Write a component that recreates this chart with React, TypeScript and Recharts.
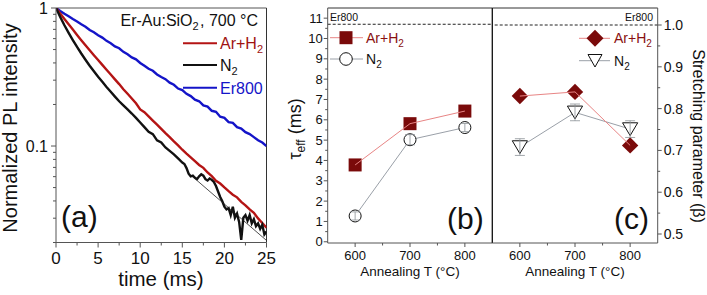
import React from 'react';
import { ComposedChart, Line, Scatter, XAxis, YAxis, ReferenceLine, ErrorBar } from 'recharts';

const FONT = '"Liberation Sans", Arial, Helvetica, sans-serif';
const AXIS = '#555';

// ---------- Panel (a): PL decay curves ----------
const T_HALF = [0,0.5,1,1.5,2,2.5,3,3.5,4,4.5,5,5.5,6,6.5,7,7.5,8,8.5,9,9.5,10,10.5,11,11.5,12,12.5,13,13.5,14,14.5,15,15.5,16,16.5,17,17.5,18,18.5,19,19.5,20,20.5,21,21.5,22,22.5,23,23.5,24,24.5,25];
const PL_ARH2 = [1,0.912,0.832,0.762,0.698,0.638,0.585,0.537,0.494,0.455,0.42,0.387,0.357,0.33,0.304,0.281,0.258,0.239,0.221,0.204,0.184,0.176,0.164,0.153,0.143,0.133,0.124,0.116,0.108,0.101,0.094,0.088,0.0828,0.0776,0.0729,0.0695,0.0643,0.0605,0.056,0.0535,0.0501,0.0471,0.0444,0.0425,0.0394,0.0372,0.0347,0.0328,0.0299,0.0277,0.0256];
const PL_ER800 = [1,0.951,0.908,0.871,0.832,0.798,0.762,0.731,0.692,0.667,0.634,0.61,0.578,0.556,0.527,0.511,0.481,0.462,0.439,0.425,0.4,0.382,0.363,0.351,0.33,0.316,0.305,0.288,0.278,0.261,0.254,0.239,0.23,0.217,0.211,0.197,0.193,0.18,0.177,0.163,0.16,0.149,0.147,0.137,0.134,0.126,0.122,0.116,0.11,0.106,0.1];
const T_N2 = [0,0.5,1,1.5,2,2.5,3,3.5,4,4.5,5,5.5,6,6.5,7,7.5,8,8.5,9,9.5,10,10.5,11,11.5,12,12.5,13,13.5,14,14.5,15,
  15.25,15.5,15.75,16,16.25,16.5,16.75,17,17.25,17.5,17.75,18,18.25,18.5,18.75,19,19.25,19.5,19.75,20,20.25,20.5,20.75,21,21.25,21.5,21.75,22,22.25,22.5,22.75,23,23.25,23.5,23.75,24,24.25,24.5,24.75,25];
const PL_N2 = [1,0.861,0.75,0.661,0.586,0.522,0.468,0.422,0.382,0.348,0.318,0.292,0.268,0.247,0.228,0.211,0.197,0.184,0.172,0.16,0.148,0.137,0.127,0.122,0.11,0.106,0.0977,0.0923,0.0871,0.0813,0.0759,
  0.0741,0.0692,0.0631,0.0603,0.061,0.0589,0.0575,0.0603,0.0624,0.061,0.0575,0.0562,0.0582,0.0569,0.055,0.0513,0.0468,0.0427,0.0398,0.0363,0.0347,0.0355,0.0316,0.0363,0.0302,0.0324,0.0282,0.0209,0.0302,0.0316,0.0288,0.0316,0.0275,0.0295,0.0263,0.0275,0.0251,0.0269,0.0229,0.024];
const T_FIT = [16.5, 25];
const PL_FIT = [0.058, 0.0207];
const A_XTICKS = [0,2.5,5,7.5,10,12.5,15,17.5,20,22.5,25];
const A_YTICKS = [0.02,0.03,0.04,0.05,0.06,0.07,0.08,0.09,0.1,0.2,0.3,0.4,0.5,0.6,0.7,0.8,0.9,1];

// ---------- Panels (b), (c) ----------
const ANNEAL = [600, 700, 800];
const TAU_ARH2 = [3.78, 5.81, 6.43];
const TAU_N2 = [1.27, 5.02, 5.62];
const TAU_N2_ERR = [0.2, 0.25, 0.2];
const TAU_ER800 = 10.7;
const BETA_ARH2 = [0.83, 0.84, 0.712];
const BETA_N2 = [0.708, 0.791, 0.751];
const BETA_N2_ERR = [0.02, 0.02, 0.02];
const BETA_ER800 = 1.0;
const B_YTICKS = [0,0.5,1,1.5,2,2.5,3,3.5,4,4.5,5,5.5,6,6.5,7,7.5,8,8.5,9,9.5,10,10.5,11];
const C_YTICKS = [0.5,0.55,0.6,0.65,0.7,0.75,0.8,0.85,0.9,0.95,1.0];
const T_XTICKS = [600, 650, 700, 750, 800];

const zip = (xs: number[], ys: number[]) => xs.map((x, i) => ({ x, v: ys[i] }));
const zipErr = (xs: number[], ys: number[], es: number[]) => xs.map((x, i) => ({ x, v: ys[i], err: es[i] }));

const dataArH2 = zip(T_HALF, PL_ARH2);
const dataEr800 = zip(T_HALF, PL_ER800);
const dataN2 = zip(T_N2, PL_N2);
const dataFit = zip(T_FIT, PL_FIT);
const bAr = zip(ANNEAL, TAU_ARH2);
const bN2 = zipErr(ANNEAL, TAU_N2, TAU_N2_ERR);
const cAr = zip(ANNEAL, BETA_ARH2);
const cN2 = zipErr(ANNEAL, BETA_N2, BETA_N2_ERR);

const MAROON = '#7a0a0a';
const PINK = '#e88585';
const GREYLINE = '#9aa0a8';
const ERRGREY = '#8a9096';

// ---------- tick renderers ----------
const ATickX = (p: any) => {
  const { x, y, payload } = p;
  const v = payload.value;
  const major = v % 5 === 0;
  return (
    <g>
      <line x1={x} x2={x} y1={y} y2={y + (major ? 5 : 3)} stroke={AXIS} />
      {major && (
        <text x={x} y={y + 21.5} textAnchor="middle" fontSize={17} fontFamily={FONT} fill="#111">{v}</text>
      )}
    </g>
  );
};
const ATickY = (p: any) => {
  const { x, y, payload } = p;
  const v = payload.value;
  const major = Math.abs(v - 1) < 1e-9 || Math.abs(v - 0.1) < 1e-9;
  return (
    <g>
      <line x1={x} x2={x - (major ? 5 : 3)} y1={y} y2={y} stroke={AXIS} />
      {major && (
        <text x={x - 8} y={y + 5.7} textAnchor="end" fontSize={16} fontFamily={FONT} fill="#111">{v === 1 ? '1' : '0.1'}</text>
      )}
    </g>
  );
};
const TTickX = (p: any) => {
  const { x, y, payload } = p;
  const v = payload.value;
  const major = v % 100 === 0;
  return (
    <g>
      <line x1={x} x2={x} y1={y} y2={y + (major ? 4 : 2.5)} stroke={AXIS} />
      {major && (
        <text x={x} y={y + 16.5} textAnchor="middle" fontSize={13} fontFamily={FONT} fill="#111">{v}</text>
      )}
    </g>
  );
};
const BTickY = (p: any) => {
  const { x, y, payload } = p;
  const v = payload.value;
  const major = Number.isInteger(v);
  return (
    <g>
      <line x1={x} x2={x - (major ? 4 : 2.5)} y1={y} y2={y} stroke={AXIS} />
      {major && (
        <text x={x - 5} y={y + 4.6} textAnchor="end" fontSize={13} fontFamily={FONT} fill="#111">{v}</text>
      )}
    </g>
  );
};
const CTickY = (p: any) => {
  const { x, y, payload } = p;
  const v = payload.value;
  const major = Math.round(v * 100) % 10 === 0;
  return (
    <g>
      <line x1={x} x2={x + (major ? 4 : 2.5)} y1={y} y2={y} stroke={AXIS} />
      {major && (
        <text x={x + 6} y={y + 5} textAnchor="start" fontSize={14} fontFamily={FONT} fill="#111">{v.toFixed(1)}</text>
      )}
    </g>
  );
};

// ---------- marker shapes ----------
const Square = (p: any) => (
  <rect key={`s${p.index}`} x={p.cx - 6.5} y={p.cy - 6.5} width={13} height={13} fill={MAROON} />
);
const Circle = (p: any) => (
  <circle key={`c${p.index}`} cx={p.cx} cy={p.cy} r={6} fill="#fff" stroke="#111" strokeWidth={1} />
);
const Diamond = (p: any) => (
  <polygon key={`d${p.index}`} points={`${p.cx},${p.cy - 8.2} ${p.cx + 8.2},${p.cy} ${p.cx},${p.cy + 8.2} ${p.cx - 8.2},${p.cy}`} fill={MAROON} />
);
const TriDown = (p: any) => (
  <polygon key={`t${p.index}`} points={`${p.cx - 7.6},${p.cy - 6.3} ${p.cx + 7.6},${p.cy - 6.3} ${p.cx},${p.cy + 6.5}`} fill="#fff" stroke="#111" strokeWidth={1} />
);
const Empty = () => <g />;

const Sub = ({ children, size }: any) => (
  <>
    <tspan fontSize={size} dy={4}>{children}</tspan>
    <tspan dy={-4}>{'\u200A'}</tspan>
  </>
);

export default function App() {
  return (
    <div style={{ position: 'absolute', left: 0, top: 0, width: 707, height: 295, background: '#fff', fontFamily: FONT }}>
      {/* Panel (a) */}
      <div style={{ position: 'absolute', left: 0, top: 0 }}>
        <ComposedChart width={707} height={295} margin={{ top: 8, right: 440.5, bottom: 22.5, left: 16 }}>
          <XAxis type="number" dataKey="x" domain={[0, 25]} ticks={A_XTICKS} interval={0} tick={ATickX} tickSize={0} tickMargin={0} tickLine={false} height={30} stroke={AXIS} allowDataOverflow />
          <YAxis type="number" scale="log" domain={[0.02, 1]} ticks={A_YTICKS} interval={0} tick={ATickY} tickSize={0} tickMargin={0} tickLine={false} width={40} stroke={AXIS} allowDataOverflow />
          <ReferenceLine y={1} stroke={AXIS} />
          <ReferenceLine x={25} stroke="#333" />
          <Line data={dataEr800} dataKey="v" stroke="#1414c8" strokeWidth={2.4} dot={false} isAnimationActive={false} />
          <Line data={dataArH2} dataKey="v" stroke="#b41414" strokeWidth={2.4} dot={false} isAnimationActive={false} />
          <Line data={dataN2} dataKey="v" stroke="#111" strokeWidth={2.4} dot={false} isAnimationActive={false} />
          <Line data={dataFit} dataKey="v" stroke="#222" strokeWidth={0.8} dot={false} isAnimationActive={false} />
        </ComposedChart>
      </div>

      {/* Panel (b) */}
      <div style={{ position: 'absolute', left: 0, top: 0 }}>
        <ComposedChart width={707} height={295} margin={{ top: 8, right: 214.7, bottom: 22, left: 287.7 }}>
          <XAxis type="number" dataKey="x" domain={[550, 850]} ticks={T_XTICKS} interval={0} tick={TTickX} tickSize={0} tickMargin={0} tickLine={false} height={30} stroke={AXIS} allowDataOverflow />
          <YAxis type="number" domain={[-0.06, 11.5]} ticks={B_YTICKS} interval={0} tick={BTickY} tickSize={0} tickMargin={0} tickLine={false} width={40} stroke={AXIS} allowDataOverflow />
          <ReferenceLine y={11.5} stroke="#333" />
          <ReferenceLine x={850} stroke="#111" />
          <ReferenceLine y={TAU_ER800} stroke="#222" strokeDasharray="3 2" />
          <Line data={bN2} dataKey="v" stroke={GREYLINE} strokeWidth={1} dot={false} isAnimationActive={false} />
          <Scatter data={bN2} dataKey="v" shape={Circle} isAnimationActive={false} />
          <Scatter data={bN2} dataKey="v" shape={Empty} isAnimationActive={false} zIndex={900}>
            <ErrorBar dataKey="err" direction="y" width={5} stroke={ERRGREY} strokeWidth={0.8} zIndex={900} />
          </Scatter>
          <Line data={bAr} dataKey="v" stroke={PINK} strokeWidth={1} dot={Square} isAnimationActive={false} zIndex={950} />
        </ComposedChart>
      </div>

      {/* Panel (c) */}
      <div style={{ position: 'absolute', left: 0, top: 0 }}>
        <ComposedChart width={707} height={295} margin={{ top: 8, right: 4.3, bottom: 22, left: 492.3 }}>
          <XAxis type="number" dataKey="x" domain={[550, 850]} ticks={T_XTICKS} interval={0} tick={TTickX} tickSize={0} tickMargin={0} tickLine={false} height={30} stroke={AXIS} allowDataOverflow />
          <YAxis type="number" orientation="right" domain={[0.4785, 1.0407]} ticks={C_YTICKS} interval={0} tick={CTickY} tickSize={0} tickMargin={0} tickLine={false} width={45} stroke={AXIS} allowDataOverflow />
          <ReferenceLine y={1.0407} stroke="#333" />
          <ReferenceLine x={550} stroke="#111" />
          <ReferenceLine y={BETA_ER800} stroke="#222" strokeDasharray="3 2" />
          <Line data={cN2} dataKey="v" stroke={GREYLINE} strokeWidth={1} dot={false} isAnimationActive={false} />
          <Scatter data={cN2} dataKey="v" shape={TriDown} isAnimationActive={false} />
          <Scatter data={cN2} dataKey="v" shape={Empty} isAnimationActive={false} zIndex={900}>
            <ErrorBar dataKey="err" direction="y" width={5} stroke={ERRGREY} strokeWidth={0.8} zIndex={900} />
          </Scatter>
          <Line data={cAr} dataKey="v" stroke={PINK} strokeWidth={1} dot={Diamond} isAnimationActive={false} zIndex={950} />
        </ComposedChart>
      </div>

      {/* Text overlay */}
      <svg width={707} height={295} style={{ position: 'absolute', left: 0, top: 0, pointerEvents: 'none' }} fontFamily={FONT}>
        {/* (a) */}
        <text transform="translate(16.5,128) rotate(-90)" textAnchor="middle" fontSize={20} fill="#111">Normalized PL intensity</text>
        <text x={161} y={286} textAnchor="middle" fontSize={20.5} fill="#111">time (ms)</text>
        <text x={258} y={26} textAnchor="end" fontSize={16} fill="#111">Er-Au:SiO<Sub size={11}>2</Sub>, 700 °C</text>
        <line x1={183} x2={217} y1={43.3} y2={43.3} stroke="#b41414" strokeWidth={2} />
        <line x1={183} x2={217} y1={65} y2={65} stroke="#111" strokeWidth={2} />
        <line x1={183} x2={217} y1={87.7} y2={87.7} stroke="#1414c8" strokeWidth={2} />
        <text x={220} y={49} fontSize={16} fill="#a01212">Ar+H<Sub size={11}>2</Sub></text>
        <text x={220} y={70.5} fontSize={16} fill="#111">N<Sub size={11}>2</Sub></text>
        <text x={220} y={93.5} fontSize={16} fill="#1515c8">Er800</text>
        <text x={61} y={227} fontSize={30} fill="#111">(a)</text>

        {/* (b) */}
        <text transform="translate(301,129) rotate(-90)" textAnchor="middle" fontSize={18} fill="#111">τ<tspan fontSize={12} dy={4}>eff</tspan><tspan dy={-4}> (ms)</tspan></text>
        <text x={410} y={276} textAnchor="middle" fontSize={13.5} fill="#111">Annealing T (°C)</text>
        <text x={330} y={21} fontSize={10.5} fill="#111">Er800</text>
        <line x1={330} x2={363} y1={37.7} y2={37.7} stroke={PINK} strokeWidth={1} />
        <rect x={339.5} y={31.2} width={13} height={13} fill={MAROON} />
        <line x1={330} x2={363} y1={59} y2={59} stroke={GREYLINE} strokeWidth={1} />
        <circle cx={346} cy={59} r={6.3} fill="#fff" stroke="#111" />
        <text x={366} y={42.5} fontSize={14} fill="#8a1010">Ar+H<Sub size={10}>2</Sub></text>
        <text x={366} y={64} fontSize={14} fill="#111">N<Sub size={10}>2</Sub></text>
        <text x={447} y={229} fontSize={30} fill="#111">(b)</text>

        {/* (c) */}
        <text transform="translate(693,136) rotate(90)" textAnchor="middle" fontSize={16} fill="#111">Stretching parameter (β)</text>
        <text x={575} y={276} textAnchor="middle" fontSize={13.5} fill="#111">Annealing T (°C)</text>
        <text x={653} y={21} textAnchor="end" fontSize={10.5} fill="#111">Er800</text>
        <line x1={579} x2={610} y1={38.3} y2={38.3} stroke={PINK} strokeWidth={1} />
        <polygon points="595,29.8 603.5,38.3 595,46.8 586.5,38.3" fill={MAROON} />
        <line x1={579} x2={610} y1={60.7} y2={60.7} stroke={GREYLINE} strokeWidth={1} />
        <polygon points="588,54.5 602,54.5 595,67" fill="#fff" stroke="#111" />
        <text x={614} y={43.3} fontSize={14} fill="#8a1010">Ar+H<Sub size={10}>2</Sub></text>
        <text x={614} y={65.7} fontSize={14} fill="#111">N<Sub size={10}>2</Sub></text>
        <text x={614} y={229} fontSize={30} fill="#111">(c)</text>
      </svg>
    </div>
  );
}
